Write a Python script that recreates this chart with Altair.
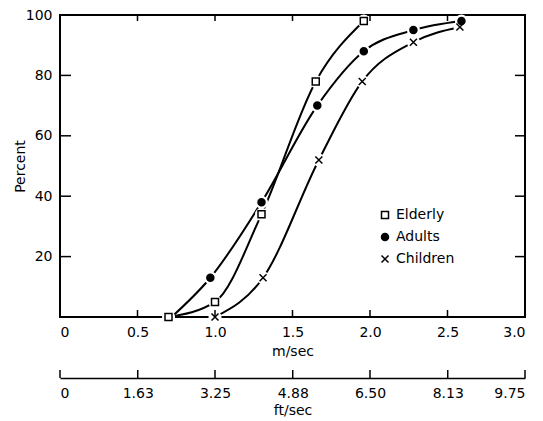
import altair as alt
import pandas as pd

series = ["Elderly", "Adults", "Children"]

elderly_speed = [0.70, 1.00, 1.30, 1.65, 1.96]
elderly_pct = [0, 5, 34, 78, 98]
elderly_marker = [True, True, True, True, True]

adults_speed = [0.72, 0.97, 1.30, 1.66, 1.96, 2.28, 2.59]
adults_pct = [0, 13, 38, 70, 88, 95, 98]
adults_marker = [False, True, True, True, True, True, True]

children_speed = [1.00, 1.31, 1.67, 1.95, 2.28, 2.58]
children_pct = [0, 13, 52, 78, 91, 96]
children_marker = [True, True, True, True, True, True]

m_ticks = [0, 0.5, 1.0, 1.5, 2.0, 2.5, 3.0]
ft_ticks = [0, 1.63, 3.25, 4.88, 6.50, 8.13, 9.75]
pct_ticks = [20, 40, 60, 80, 100]

rows = []
for name, xs, ys, ms in [
    ("Elderly", elderly_speed, elderly_pct, elderly_marker),
    ("Adults", adults_speed, adults_pct, adults_marker),
    ("Children", children_speed, children_pct, children_marker),
]:
    for x, y, m in zip(xs, ys, ms):
        rows.append({"group": name, "speed": x, "pct": y, "marker": m})
df = pd.DataFrame(rows)

W, H = 465, 302

xscale = alt.Scale(domain=[0, 3], nice=False, zero=False)
yscale = alt.Scale(domain=[0, 100], nice=False)

x_axis = alt.Axis(values=m_ticks, title="m/sec", ticks=False, domain=False,
                  grid=False, labelPadding=8, titlePadding=5,
                  labelExpr="datum.value == 0 ? '0' : format(datum.value, '.1f')")
y_axis = alt.Axis(values=pct_ticks, title="Percent", ticks=False, domain=False,
                  grid=False, labelPadding=8, titleX=-40, titleY=151,
                  titleBaseline="middle")

X = lambda f: alt.X(f, scale=xscale, axis=x_axis)
Y = lambda f: alt.Y(f, scale=yscale, axis=y_axis)

base = alt.Chart(df)

lines = base.mark_line(interpolate="monotone", color="black", strokeWidth=2).encode(
    x=X("speed:Q"), y=Y("pct:Q"), detail="group:N",
)

halo = base.transform_filter("datum.marker").mark_point(
    filled=True, color="white", size=170, shape="circle", opacity=1
).encode(x=X("speed:Q"), y=Y("pct:Q"))

legend = alt.Legend(title=None, symbolStrokeWidth=1.5)

markers = base.transform_filter("datum.marker").mark_point(
    filled=False, strokeWidth=1.5, size=49, opacity=1
).encode(
    x=X("speed:Q"),
    y=Y("pct:Q"),
    shape=alt.Shape("group:N", legend=legend,
                    scale=alt.Scale(domain=series,
                                    range=["square", "circle", "M-1,-1L1,1M1,-1L-1,1"])),
    fill=alt.Fill("group:N", legend=legend,
                  scale=alt.Scale(domain=series, range=["white", "black", "black"])),
    stroke=alt.Stroke("group:N", legend=legend,
                      scale=alt.Scale(domain=series, range=["black", "black", "black"])),
)

xt = pd.DataFrame({"speed": m_ticks[1:-1]})
yt = pd.DataFrame({"pct": pct_ticks[:-1]})

bottom_ticks = alt.Chart(xt).mark_rule(color="black", strokeWidth=1.5).encode(
    x=X("speed:Q"), y=alt.value(H), y2=alt.value(H - 7))
top_ticks = alt.Chart(xt).mark_rule(color="black", strokeWidth=1.5).encode(
    x=X("speed:Q"), y=alt.value(0), y2=alt.value(6))
left_ticks = alt.Chart(yt).mark_rule(color="black", strokeWidth=1.5).encode(
    y=Y("pct:Q"), x=alt.value(0), x2=alt.value(11))
right_ticks = alt.Chart(yt).mark_rule(color="black", strokeWidth=1.5).encode(
    y=Y("pct:Q"), x=alt.value(W), x2=alt.value(W - 10))

main = alt.layer(lines, halo, markers, bottom_ticks, top_ticks, left_ticks, right_ticks)

ft_df = pd.DataFrame({"ft": ft_ticks})
ft_layer = alt.Chart(ft_df).mark_rule(color="black", strokeWidth=1.5).encode(
    x=alt.X("ft:Q", scale=alt.Scale(domain=[0, 9.75], nice=False, zero=False),
            axis=alt.Axis(orient="bottom", offset=61, values=ft_ticks, title="ft/sec",
                          ticks=False, domain=True, domainColor="black", domainWidth=1.5,
                          grid=False, labelPadding=8, titlePadding=3,
                          labelExpr="datum.value == 0 ? '0' : format(datum.value, '.2f')")),
    y=alt.value(H + 61),
    y2=alt.value(H + 53),
)

chart = alt.layer(main, ft_layer).resolve_scale(x="independent").properties(
    width=W, height=H,
    autosize=alt.AutoSizeParams(type="none"),
    padding={"left": 52, "top": 7, "right": 10, "bottom": 104},
).configure_view(
    stroke="black", strokeWidth=2
).configure_axis(
    labelFont="DejaVu Sans", labelFontSize=14, labelColor="black",
    titleFont="DejaVu Sans", titleFontSize=14, titleFontWeight="normal", titleColor="black",
).configure_legend(
    orient="none", legendX=318, legendY=193, labelFont="DejaVu Sans", labelFontSize=14,
    labelColor="black", symbolSize=49, labelOffset=4, rowPadding=8, padding=0,
)

chart.save("out.html", embed_options={"renderer": "svg", "actions": False})
